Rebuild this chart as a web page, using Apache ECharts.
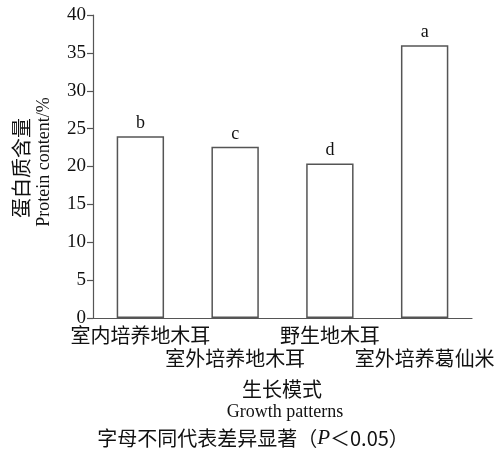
<!DOCTYPE html>
<html>
<head>
<meta charset="utf-8">
<script src="https://cdn.jsdelivr.net/npm/echarts@6/dist/echarts.min.js"></script>
<style>
  html, body { margin: 0; padding: 0; background: #fff; }
  #chart { width: 500px; height: 453px; }
</style>
</head>
<body>
<div id="chart"></div>
<script>
// 数据
const categories = ['室内培养地木耳', '室外培养地木耳', '野生地木耳', '室外培养葛仙米']
const proteinValues = [24.0, 22.6, 20.4, 36.0]
const sigLetters = ['b', 'c', 'd', 'a']

const cjkFont = 'Noto Sans CJK SC'
const serifFont = 'Liberation Serif'
const lineColor = '#555'

const myChart = echarts.init(document.getElementById('chart'))

const option = {
  animation: false,
  backgroundColor: '#fff',
  grid: { left: 93, right: 28, top: 15, bottom: 135 },
  xAxis: {
    type: 'category',
    data: categories,
    axisLine: { lineStyle: { color: lineColor, width: 1.2 } },
    axisTick: { inside: true, length: 6, lineStyle: { color: lineColor, width: 1.2 } },
    axisLabel: {
      interval: 0,
      margin: 6,
      fontFamily: cjkFont,
      fontSize: 20,
      lineHeight: 23,
      color: '#111',
      // 错开显示，避免标签重叠
      formatter: (v, i) => (i % 2 ? '\n' + v : v)
    }
  },
  yAxis: {
    type: 'value',
    min: 0,
    max: 40,
    interval: 5,
    splitLine: { show: false },
    axisLine: { show: true, lineStyle: { color: lineColor, width: 1.2 } },
    axisTick: { show: true, length: 6, lineStyle: { color: lineColor, width: 1.2 } },
    axisLabel: { margin: 7, fontFamily: serifFont, fontSize: 19, color: '#111' }
  },
  series: [
    {
      type: 'bar',
      data: proteinValues,
      barWidth: '50%',
      itemStyle: { color: '#fff', borderColor: lineColor, borderWidth: 1.5 },
      label: {
        show: true,
        position: 'top',
        distance: 4,
        fontFamily: serifFont,
        fontSize: 18,
        color: '#111',
        formatter: p => sigLetters[p.dataIndex]
      }
    }
  ],
  graphic: [
    {
      type: 'text', x: 21, y: 168, rotation: Math.PI / 2,
      style: { text: '蛋白质含量', font: `20px "${cjkFont}"`, fill: '#111', align: 'center', verticalAlign: 'middle' }
    },
    {
      type: 'text', x: 44, y: 162, rotation: Math.PI / 2,
      style: { text: 'Protein content/%', font: `18px "${serifFont}"`, fill: '#111', align: 'center', verticalAlign: 'middle' }
    },
    {
      type: 'text', x: 282, y: 389,
      style: { text: '生长模式', font: `20px "${cjkFont}"`, fill: '#111', align: 'center', verticalAlign: 'middle' }
    },
    {
      type: 'text', x: 285, y: 412,
      style: { text: 'Growth patterns', font: `18px "${serifFont}"`, fill: '#111', align: 'center', verticalAlign: 'middle' }
    },
    {
      type: 'text', x: 253, y: 438,
      style: {
        text: '字母不同代表差异显著（{i|P}＜0.05）',
        font: `20px "${cjkFont}"`,
        fill: '#111',
        align: 'center',
        verticalAlign: 'middle',
        rich: { i: { fontFamily: serifFont, fontStyle: 'italic', fontSize: 21, fill: '#111' } }
      }
    }
  ]
}

myChart.setOption(option, { notMerge: true })
window.addEventListener('resize', () => myChart.resize(), false)
</script>
</body>
</html>
